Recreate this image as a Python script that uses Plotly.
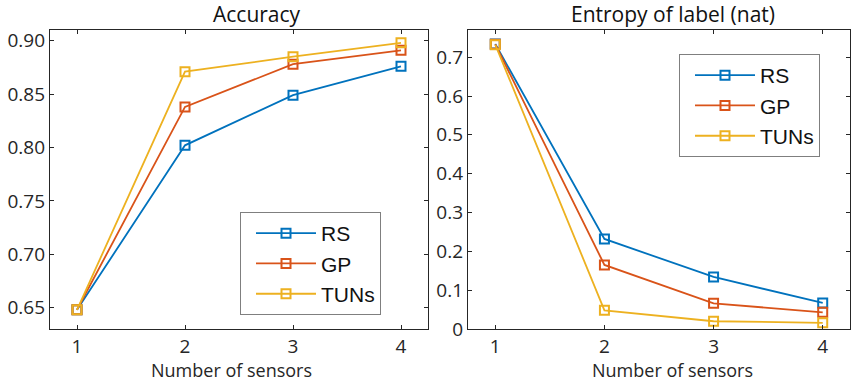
import plotly.graph_objects as go

sensors = [1, 2, 3, 4]
acc_rs = [0.648, 0.802, 0.849, 0.876]
acc_gp = [0.648, 0.838, 0.878, 0.891]
acc_tuns = [0.648, 0.871, 0.885, 0.898]
ent_rs = [0.734, 0.232, 0.134, 0.067]
ent_gp = [0.733, 0.165, 0.066, 0.043]
ent_tuns = [0.732, 0.048, 0.020, 0.016]
series_names = ["RS", "GP", "TUNs"]
colors = ["#0072BD", "#D95319", "#EDB120"]

W, H = 855, 383
fig = go.Figure()

def px_x(p):
    return p / W

def px_y(p):
    return 1 - p / H

for vals, name, col in zip([acc_rs, acc_gp, acc_tuns], series_names, colors):
    fig.add_trace(go.Scatter(x=sensors, y=vals, name=name, mode="lines+markers",
                             line=dict(color=col, width=1.8),
                             marker=dict(symbol="square-open", size=9, color=col, line=dict(width=2)),
                             xaxis="x", yaxis="y", legend="legend"))
for vals, name, col in zip([ent_rs, ent_gp, ent_tuns], series_names, colors):
    fig.add_trace(go.Scatter(x=sensors, y=vals, name=name, mode="lines+markers",
                             line=dict(color=col, width=1.8),
                             marker=dict(symbol="square-open", size=9, color=col, line=dict(width=2)),
                             xaxis="x2", yaxis="y2", legend="legend2"))

axis_common = dict(showgrid=False, zeroline=False, showline=True, linecolor="#262626", linewidth=1.3,
                   mirror="ticks", ticks="inside", ticklen=4, tickcolor="#262626", automargin=False,
                   tickfont=dict(family="Open Sans", size=19, color="#262626"))

ann_common = dict(xref="paper", yref="paper", xanchor="center", yanchor="middle", showarrow=False)

legend_common = dict(xanchor="left", yanchor="top", bordercolor="#7f7f7f", borderwidth=1,
                     bgcolor="white", font=dict(family="Liberation Sans", size=21, color="#111"),
                     itemwidth=60, indentation=10)

fig.update_layout(
    width=W, height=H, margin=dict(l=0, r=0, t=0, b=0),
    paper_bgcolor="white", plot_bgcolor="white",
    xaxis=dict(domain=[px_x(50), px_x(428)], range=[0.75, 4.25], tickvals=sensors,
               anchor="y", **axis_common),
    yaxis=dict(domain=[px_y(329), px_y(30)], range=[0.63, 0.91],
               tickvals=[0.65, 0.70, 0.75, 0.80, 0.85, 0.90], tickformat=".2f",
               anchor="x", **axis_common),
    xaxis2=dict(domain=[px_x(468), px_x(850)], range=[0.75, 4.25], tickvals=sensors,
                anchor="y2", **axis_common),
    yaxis2=dict(domain=[px_y(329), px_y(30)], range=[0, 0.77],
                tickvals=[0, 0.1, 0.2, 0.3, 0.4, 0.5, 0.6, 0.7],
                ticktext=["0", "0.1", "0.2", "0.3", "0.4", "0.5", "0.6", "0.7"],
                anchor="x2", **axis_common),
    legend=dict(x=px_x(240), y=px_y(212), **legend_common),
    legend2=dict(x=px_x(679), y=px_y(54), **legend_common),
    annotations=[
        dict(text="Accuracy", x=px_x(257), y=px_y(14),
             font=dict(family="Open Sans", size=21, color="#111"), **ann_common),
        dict(text="Entropy of label (nat)", x=px_x(673), y=px_y(14),
             font=dict(family="Open Sans", size=21, color="#111"), **ann_common),
        dict(text="Number of sensors", x=px_x(232), y=px_y(370),
             font=dict(family="Open Sans", size=18, color="#262626"), **ann_common),
        dict(text="Number of sensors", x=px_x(672), y=px_y(370),
             font=dict(family="Open Sans", size=18, color="#262626"), **ann_common),
    ],
)

fig.write_html("out.html", config={"displayModeBar": False},
               post_script="document.body.style.margin='0';")
